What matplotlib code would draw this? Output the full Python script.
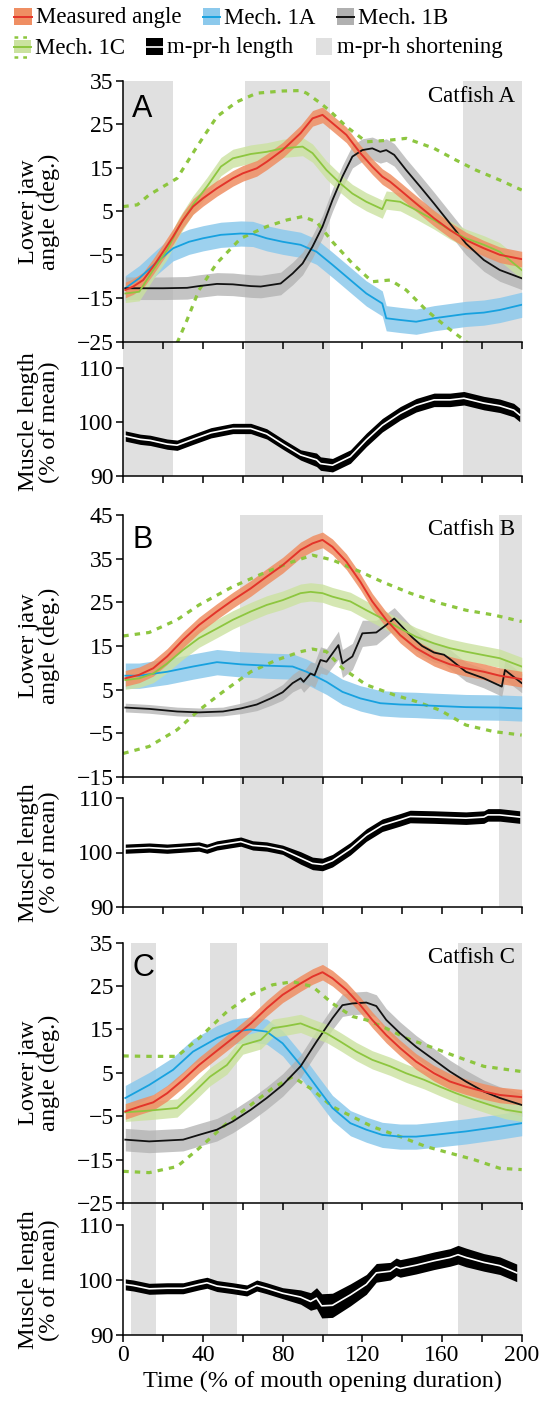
import matplotlib
matplotlib.use('Agg')
import matplotlib.pyplot as plt
from matplotlib.patches import Rectangle
from matplotlib.lines import Line2D
import numpy as np

# ---------------- DATA ----------------
# Panel A (Catfish A)
xa_red = [1,5,10,15,20,25,30,35,40,47,55,60,67,72,80,89,95,100,105,112,119,125,130,134,139,147,156,164,172,181,189,200]
ya_red = [-13.1,-12.3,-10.8,-7.7,-4.3,-0.8,3.0,6.1,8.0,10.3,12.6,13.75,14.9,16.4,19.1,23.0,26.4,27.2,25.3,22.6,18.4,15.3,13.0,11.8,9.9,6.8,3.4,0.7,-1.6,-3.5,-5.0,-6.0]
xa_grn = [1,8,15,22,28,35,42,49,55,64,72,80,90,95,102,109,115,122,130,132,139,147,156,164,172,181,189,200]
ya_grn = [-13.9,-13.5,-8.5,-3.9,1.5,6.5,10.7,15.3,17.2,18.2,18.7,19.5,19.9,18.4,14.5,11.4,9.1,7.2,5.5,7.6,7.2,5.3,3.0,0.7,-1.2,-2.7,-4.3,-8.5]
xa_blu = [1,8,17,25,33,40,49,59,65,72,80,89,97,105,114,122,130,132,139,147,156,164,172,181,189,200]
ya_blu = [-12.7,-10.4,-6.6,-3.5,-2.0,-1.2,-0.4,-0.1,-0.2,-1.2,-2.0,-2.7,-4.3,-7.3,-10.8,-13.9,-16.2,-19.6,-20.0,-20.4,-19.6,-19.1,-18.6,-18.3,-17.7,-16.5]
xa_blk = [1,10,20,32,38,47,55,64,69,79,85,90,95,100,105,110,115,120,125,129,132,136,142,149,156,164,172,181,189,200]
ya_blk = [-12.7,-12.7,-12.7,-12.6,-12.2,-11.7,-11.8,-12.2,-12.3,-11.6,-9.3,-7.0,-3.1,1.5,7.6,13.0,17.6,19.1,19.5,18.7,19.1,18.0,14.5,10.7,6.8,2.2,-2.4,-6.2,-8.5,-10.4]
xa_dhi = [0,7,13,27,37,47,57,67,80,89,92,99,104,112,122,134,142,156,167,177,189,200]
ya_dhi = [6.1,6.5,8.8,12.6,19.9,26.8,30.2,32.2,32.7,32.8,32.2,29.9,28.0,24.5,21.0,21.4,21.8,19.5,16.8,14.5,12.2,9.9]
xa_dlo = [27.0,32,38,47,59,72,82,90,97,105,115,125,134,142,152,162,173]
ya_dlo = [-25.3,-20.0,-13.1,-6.9,-1.2,1.5,3.0,3.8,2.6,-2.0,-7.0,-11.2,-10.8,-13.1,-17.7,-21.5,-25.3]
xa_mus = [1,8.5,13.5,22,27,35,44,55,64,72,80.5,89,97,99,105,114,122,130,139,147,156,164,171,181,189,196,199]
ya_mus = [97.4,96.8,96.6,95.9,95.7,96.8,98.0,98.8,98.8,97.8,95.8,93.9,93.0,92.3,92.0,93.6,96.7,99.4,101.6,103.1,104.1,104.1,104.4,103.5,103.0,102.2,101.3]
ya_mus_sd = [0.95]*12 + [1.25]*15
shade_a = [(0, 25), (61, 103.7), (170.7, 200)]

# Panel B (Catfish B)
xb_red = [1,8,15,22,30,38,47,55,64,72,80,89,95,100,105,112,119,125,132,139,147,156,164,172,181,189,200]
yb_red = [7.6,8.4,9.9,12.6,16.4,19.8,22.9,25.5,28.2,30.9,33.5,37.0,38.5,39.3,37.7,34.3,29.7,25.2,21.0,17.5,14.5,12.2,10.8,9.9,9.1,8.2,7.4]
xb_grn = [1,8,15,22,30,38,47,55,64,72,80,89,94,100,105,114,122,130,139,147,156,164,172,181,189,200]
yb_grn = [7.2,7.6,8.7,11.0,14.1,16.8,19.0,21.0,22.9,24.4,25.5,27.1,27.4,27.1,26.3,25.2,23.2,21.3,19.0,17.1,15.6,14.5,13.7,12.9,12.2,10.3]
xb_blu = [1,8,22,35,47,59,72,85,92,102,110,119,129,139,147,156,172,189,200]
yb_blu = [8.2,8.2,9.1,10.3,11.3,10.8,10.5,10.3,9.1,6.8,4.5,3.0,1.9,1.6,1.5,1.3,1.0,0.9,0.7]
xb_blk = [1,13,27,38,50,59,67,74,80,85,89,90.5,94,96,99,102,108,110,115,120,127,132,136,145,150,156,161,164,172,181,190,191.6,200]
yb_blk = [0.9,0.6,0.0,-0.2,0.0,0.7,1.6,3.0,4.4,6.5,7.6,6.8,8.7,8.3,11.8,11.4,15.2,11.0,12.6,17.9,18.1,19.8,21.3,17.0,15.0,13.5,13.0,12.0,9.1,7.6,5.7,9.5,6.5]
yb_blk_sd = [1.0,1.0,1.0,1.0,1.0,1.2,1.4,1.6,1.8,2.0,2.2,2.4,2.6,2.8,3.0,3.0,3.2,3.2,3.0,3.0,2.8,2.6,2.5,2.4,2.3,2.2,2.2,2.2,2.2,2.2,2.2,2.2,2.2]
xb_dhi = [0,13,27,38,55,72,85,95,105,119,130,144,159,172,186,200]
yb_dhi = [17.3,18.1,21.0,24.4,28.6,32.0,34.3,35.8,34.7,32.0,29.7,27.1,24.8,23.2,22.1,20.6]
xb_dlo = [0,13,27,38,50,64,77,89,95,102,110,122,136,147,159,172,186,200]
yb_dlo = [-9.6,-8.0,-4.2,0.3,4.5,9.1,11.8,13.7,14.3,13.7,9.9,6.1,3.8,2.3,0.3,-3.1,-4.6,-5.4]
xb_mus = [1,13,22,30,38,42,47,59,65,72,80,89,95,100,105,114,122,130,139,144,156,172,181,183,189,199]
yb_mus = [100.7,100.9,100.7,100.9,101.1,100.7,101.3,102.0,101.3,101.1,100.5,99.0,98.0,97.8,98.5,100.7,103.2,105.0,106.0,106.6,106.5,106.3,106.5,106.9,106.9,106.5]
yb_mus_sd = [0.85]*11 + [1.15]*15
shade_b = [(58.6, 100), (188.6, 200)]

# Panel C (Catfish C)
xc_red = [1,8,15,22,30,38,47,55,64,72,80,89,95,100,105,112,119,125,132,139,147,156,164,172,181,189,200]
yc_red = [-3.9,-2.8,-1.8,0.3,3.4,6.8,10.1,13.0,16.4,19.9,23.0,25.6,27.2,28.2,26.8,24.1,20.6,17.2,13.7,10.7,7.6,4.9,3.0,1.8,0.7,-0.1,-0.6]
xc_grn = [1,13,27,35,43.5,52,60,69,75,82,89,95,102,109,117,125,134,142,151,159,167,176,184,192,200]
yc_grn = [-4.1,-3.7,-3.1,0.3,4.1,6.8,11.4,12.6,15.3,15.8,16.4,15.3,14.1,12.2,9.9,8.0,6.5,4.9,3.4,1.8,0.3,-1.2,-2.4,-3.5,-4.1]
xc_blu = [1,13,25,35,47,55,64,72,80,89,97,105,114,122,130,139,147,156,172,189,200]
yc_blu = [-0.8,2.2,5.7,9.9,13.0,14.5,15.0,14.5,11.8,6.8,1.8,-3.1,-6.6,-8.1,-9.3,-9.7,-9.7,-9.3,-8.5,-7.4,-6.6]
xc_blk = [1,13,30,38,47,55,64,72,80,89,97,105,110,115,122,127,132,139,147,156,164,172,181,189,200]
yc_blk = [-10.4,-10.8,-10.4,-9.3,-8.1,-6.2,-3.5,-0.8,2.2,6.5,12.2,17.6,20.6,21.0,21.2,20.4,17.2,14.1,11.0,8.0,5.3,3.0,0.7,-0.8,-2.4]
xc_dhi = [0,13,27,38,52,64,75,85,95,105,115,122,130,142,156,167,181,200]
yc_dhi = [8.9,8.8,8.8,13.0,19.1,23.0,25.3,26.0,24.9,21.0,18.0,17.2,15.7,13.0,10.7,8.8,6.5,5.3]
xc_dlo = [0,13,27,38,52,64,75,85,95,105,115,125,139,152,164,176,189,200]
yc_dlo = [-17.7,-18.0,-16.6,-12.4,-6.6,-2.4,1.5,4.1,1.1,-2.8,-5.1,-7.4,-9.7,-12.0,-13.5,-15.0,-17.0,-17.3]
xc_mus = [1,5,13,22,30,38,42,47,55,62,67,72,80,89,94,97,99.6,105,114,122,127,134,137,139,147,156,164,168,172,181,189,197.5]
yc_mus = [99.2,99.0,98.4,98.5,98.5,99.2,99.5,98.9,98.5,98.1,99.0,98.5,97.6,96.9,96.1,96.7,95.3,95.4,97.3,99.2,101.3,101.6,102.4,102.1,102.7,103.5,104.1,104.6,104.1,103.2,102.6,101.3]
yc_mus_sd = [1.0]*13 + [1.3,1.6,1.9,2.2,2.2,2.0,1.8,1.7,1.6,1.6,1.6,1.6,1.6,1.6,1.7,1.7,1.6,1.6,1.6]
shade_c = [(3.8, 16.2), (43.5, 56.9), (68.6, 102.6), (168.2, 200)]

# band half-widths (deg.)
sd_red, sd_grn, sd_blu, sd_blk = 1.8, 2.1, 2.9, 2.6

angle_ticks_a = [-25, -15, -5, 5, 15, 25, 35]
angle_ticks_b = [-15, -5, 5, 15, 25, 35, 45]
angle_ticks_c = [-25, -15, -5, 5, 15, 25, 35]
muscle_ticks = [90, 100, 110]
x_ticks = list(range(0, 201, 20))
x_labels = ['0', '', '40', '', '80', '', '120', '', '160', '', '200']

legend_labels = ['Measured angle', 'Mech. 1A', 'Mech. 1B', 'Mech. 1C', 'm-pr-h length', 'm-pr-h shortening']

# ---------------- STYLE ----------------
SERIF = ['Liberation Serif', 'DejaVu Serif']
SANS = ['Liberation Sans', 'DejaVu Sans']
plt.rcParams['font.family'] = SERIF
plt.rcParams['axes.linewidth'] = 1.1

C_RED = '#E3342A'
C_ORANGE = '#EF8E63'
C_BLUE_L = '#17A1DF'
C_BLUE_B = '#8CC9EC'
C_GRAY_B = '#B0B0B0'
C_GREEN_L = '#8DC63F'
C_GREEN_B = '#CBE2A0'
C_SHADE = '#E0E0E0'

W, H = 548, 1401
fig = plt.figure(figsize=(W / 100, H / 100), dpi=100)

LEFT, RIGHT = 123.3, 521.7
FS_TICK = 17
FS_LAB = 17.5


def px_axes(top, bottom, **kw):
    return fig.add_axes([LEFT / W, 1 - bottom / H, (RIGHT - LEFT) / W, (bottom - top) / H], **kw)


def style_axes(ax, ylim, yticks, show_xlabels):
    ax.set_facecolor('none')
    ax.set_xlim(0, 200)
    ax.set_ylim(*ylim)
    ax.set_yticks(yticks)
    ax.set_xticks(x_ticks)
    if show_xlabels:
        ax.set_xticklabels(x_labels)
    else:
        ax.set_xticklabels([])
    for s in ('top', 'right'):
        ax.spines[s].set_visible(False)
    ax.tick_params(direction='out', length=5, width=1.1, labelsize=FS_TICK, pad=2)


def band(ax, x, y, sd, fc, alpha=0.85, z=2):
    x = np.asarray(x, float)
    y = np.asarray(y, float)
    s = np.asarray(sd, float) * np.ones_like(y)
    ax.fill_between(x, y - s, y + s, color=fc, alpha=alpha, lw=0, zorder=z)


def panel(top_a, bot_a, top_m, bot_m, ylim, yticks, shades, data, letter, name,
          letter_y, name_y, bottom):
    bg = px_axes(top_a, bot_m)
    bg.set_xlim(0, 200)
    bg.set_ylim(0, 1)
    bg.axis('off')
    bg.set_zorder(0)
    for (s0, s1) in shades:
        bg.axvspan(s0, s1, color=C_SHADE, lw=0)

    ax = px_axes(top_a, bot_a)
    ax.set_zorder(1)
    style_axes(ax, ylim, yticks, False)
    (xr, yr, xg, yg, xb, yb, xk, yk, ykd, xh, yh, xl, yl, xm, ym, ymd) = data

    band(ax, xb, yb, sd_blu, C_BLUE_B, z=2)
    band(ax, xk, yk, ykd, C_GRAY_B, z=2.1, alpha=0.75)
    band(ax, xg, yg, sd_grn, C_GREEN_B, z=2.2, alpha=0.8)
    band(ax, xr, yr, sd_red, C_ORANGE, z=2.3, alpha=0.85)
    ax.plot(xh, yh, color=C_GREEN_L, lw=2.3, ls=(0, (1.7, 1.9)), zorder=2.4)
    ax.plot(xl, yl, color=C_GREEN_L, lw=2.3, ls=(0, (1.7, 1.9)), zorder=2.4)
    ax.plot(xb, yb, color=C_BLUE_L, lw=1.3, zorder=3)
    ax.plot(xk, yk, color='#111111', lw=1.3, zorder=3)
    ax.plot(xg, yg, color=C_GREEN_L, lw=1.3, zorder=3)
    ax.plot(xr, yr, color=C_RED, lw=1.4, zorder=3.1)

    ax.text(0.022, letter_y, letter, transform=ax.transAxes, family=SANS,
            fontsize=22, va='baseline', ha='left', zorder=5)
    ax.text(0.983, name_y, name, transform=ax.transAxes, fontsize=16.5,
            va='baseline', ha='right', zorder=5)

    am = px_axes(top_m, bot_m)
    am.set_zorder(1)
    style_axes(am, (90, 110), muscle_ticks, bottom)
    xm = np.asarray(xm, float)
    ym = np.asarray(ym, float)
    sm = np.asarray(ymd, float)
    am.fill_between(xm, ym - sm, ym + sm, color='black', lw=0, zorder=2)
    am.plot(xm, ym, color='white', lw=1.2, zorder=3)

    fig.text(39 / W, 1 - (top_a + bot_a) / 2 / H, 'Lower jaw\nangle (deg.)', rotation=90,
             ha='center', va='center', multialignment='center', fontsize=FS_LAB, linespacing=0.95)
    fig.text(39 / W, 1 - (top_m + bot_m) / 2 / H, 'Muscle length\n(% of mean)', rotation=90,
             ha='center', va='center', multialignment='center', fontsize=FS_LAB, linespacing=0.95)
    return ax, am


panel(81, 341.7, 368, 476, (-25, 35), angle_ticks_a, shade_a,
      (xa_red, ya_red, xa_grn, ya_grn, xa_blu, ya_blu, xa_blk, ya_blk, sd_blk,
       xa_dhi, ya_dhi, xa_dlo, ya_dlo, xa_mus, ya_mus, ya_mus_sd),
      'A', 'Catfish A', 0.862, 0.918, False)
panel(515, 777, 798, 907, (-15, 45), angle_ticks_b, shade_b,
      (xb_red, yb_red, xb_grn, yb_grn, xb_blu, yb_blu, xb_blk, yb_blk, yb_blk_sd,
       xb_dhi, yb_dhi, xb_dlo, yb_dlo, xb_mus, yb_mus, yb_mus_sd),
      'B', 'Catfish B', 0.873, 0.924, False)
_, am_c = panel(942.7, 1203, 1225, 1335, (-25, 35), angle_ticks_c, shade_c,
                (xc_red, yc_red, xc_grn, yc_grn, xc_blu, yc_blu, xc_blk, yc_blk, sd_blk,
                 xc_dhi, yc_dhi, xc_dlo, yc_dlo, xc_mus, yc_mus, yc_mus_sd),
                'C', 'Catfish C', 0.872, 0.923, True)
am_c.set_xlabel('Time (% of mouth opening duration)', fontsize=FS_LAB, labelpad=4)


# ---------------- LEGEND ----------------
def frect(x0, y0, w, h, color):
    fig.add_artist(Rectangle((x0 / W, 1 - (y0 + h) / H), w / W, h / H,
                             transform=fig.transFigure, facecolor=color, edgecolor='none'))


def fline(x0, x1, y, color, lw, ls='-'):
    fig.add_artist(Line2D([x0 / W, x1 / W], [1 - y / H, 1 - y / H], transform=fig.transFigure,
                          color=color, lw=lw, ls=ls))


def ftext(x, y, s):
    fig.text(x / W, 1 - y / H, s, fontsize=16.5, va='baseline', ha='left')


# row 1
frect(14, 8, 18, 17, C_ORANGE); fline(14, 32, 16.5, C_RED, 1.4)
ftext(36, 23.5, legend_labels[0])
frect(203, 8, 17, 17, C_BLUE_B); fline(203, 220, 16.5, C_BLUE_L, 1.4)
ftext(224, 23.5, legend_labels[1])
frect(337, 8, 17, 17, C_GRAY_B); fline(337, 354, 16.5, '#111111', 1.4)
ftext(358, 23.5, legend_labels[2])
# row 2
frect(14, 40, 17, 13, C_GREEN_B); fline(14, 31, 46.5, C_GREEN_L, 1.4)
fline(14, 31, 37, C_GREEN_L, 1.8, (0, (1.5, 2.0)))
fline(14, 31, 56.5, C_GREEN_L, 1.8, (0, (1.5, 2.0)))
ftext(35, 53.5, legend_labels[3])
frect(146, 38, 17, 17, 'black'); fline(146, 163, 46.5, 'white', 1.2)
ftext(167, 53.5, legend_labels[4])
frect(316, 38, 16, 17, C_SHADE)
ftext(337, 53.5, legend_labels[5])

fig.savefig('out.png', dpi=100)
